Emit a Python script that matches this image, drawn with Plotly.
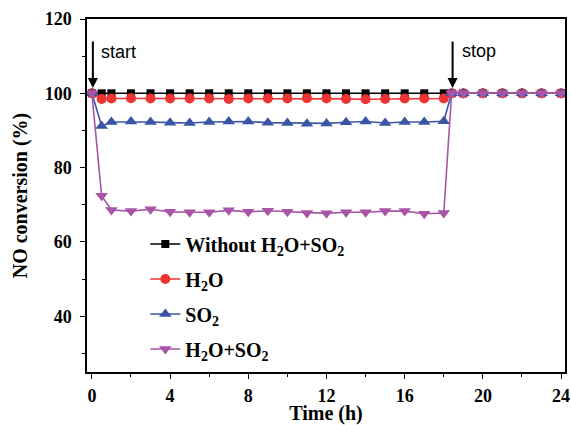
import plotly.graph_objects as go

time_h = [0, 0.5, 1, 2, 3, 4, 5, 6, 7, 8, 9, 10, 11, 12, 13, 14, 15, 16, 17, 18,
          18.4, 19, 20, 21, 22, 23, 24]
after = [100, 100, 100, 100, 100, 100, 100]
without = [100] * 20 + after
h2o = [100, 98.5, 98.6, 98.7, 98.6, 98.6, 98.6, 98.6, 98.5, 98.6, 98.6, 98.6, 98.7,
       98.6, 98.5, 98.4, 98.5, 98.6, 98.6, 98.6] + after
so2 = [100, 91.2, 92.3, 92.4, 92.3, 92.1, 92.0, 92.3, 92.4, 92.4, 92.1, 92.0, 91.8,
       91.9, 92.2, 92.4, 92.0, 92.3, 92.3, 92.5] + after
h2o_so2 = [100, 72.4, 68.6, 68.3, 68.8, 68.1, 68.0, 68.0, 68.5, 68.1, 68.4, 68.1, 67.8,
           67.7, 68.0, 68.0, 68.3, 68.3, 67.6, 67.8] + after

series = [
    ("Without H<sub>2</sub>O+SO<sub>2</sub>", without, "#000000", "square", 8),
    ("H<sub>2</sub>O", h2o, "#ee3333", "circle", 10),
    ("SO<sub>2</sub>", so2, "#3a55a5", "triangle-up", 11),
    ("H<sub>2</sub>O+SO<sub>2</sub>", h2o_so2, "#a855a8", "triangle-down", 11),
]

serif = "Times New Roman, Liberation Serif, serif"
sans = "Arial, Liberation Sans, sans-serif"

fig = go.Figure()
for i, (name, ys, color, sym, sz) in enumerate(series):
    fig.add_trace(go.Scatter(
        x=time_h, y=ys, name=name, mode="lines+markers",
        line=dict(color=color, width=1.6),
        marker=dict(symbol=sym, size=sz, color=color),
        legendgroup=f"g{i}",
    ))

for xa in (0.05, 18.45):
    fig.add_annotation(x=xa, y=101.4, ax=0, ay=-48, text="", showarrow=True,
                       arrowhead=2, arrowsize=1, arrowwidth=2, arrowcolor="black")
fig.add_annotation(x=0.35, y=111, text="start", showarrow=False, xanchor="left",
                   font=dict(family=sans, size=18, color="black"))
fig.add_annotation(x=18.85, y=111.5, text="stop", showarrow=False, xanchor="left",
                   font=dict(family=sans, size=18, color="black"))

axis_font = dict(family=serif, size=18, color="black", weight="bold")
title_font = dict(family=serif, size=20, color="black", weight="bold")
fig.update_layout(
    width=571, height=425,
    margin=dict(l=87, r=6, t=19, b=53),
    paper_bgcolor="white", plot_bgcolor="white",
    showlegend=True,
    legend=dict(x=0.122, y=0.418, xanchor="left", yanchor="top",
                bgcolor="rgba(0,0,0,0)", tracegroupgap=6,
                font=dict(family=serif, size=20, color="black", weight="bold")),
    xaxis=dict(range=[-0.25, 24.2], tickvals=[0, 4, 8, 12, 16, 20, 24],
               ticks="outside", ticklen=5, tickwidth=1.2, tickcolor="black",
               minor=dict(tickvals=[2, 6, 10, 14, 18, 22], ticks="outside", ticklen=3,
                          tickcolor="black", tickwidth=1.2),
               showline=True, linecolor="black", linewidth=1.5, mirror=True,
               showgrid=False, zeroline=False, automargin=False,
               tickfont=axis_font, ticklabelstandoff=2,
               title=dict(text="Time (h)", font=title_font, standoff=3)),
    yaxis=dict(range=[25, 120], tickvals=[40, 60, 80, 100, 120],
               ticks="outside", ticklen=5, tickwidth=1.2, tickcolor="black",
               minor=dict(tickvals=[30, 50, 70, 90, 110], ticks="outside", ticklen=3,
                          tickcolor="black", tickwidth=1.2),
               showline=True, linecolor="black", linewidth=1.5, mirror=True,
               showgrid=False, zeroline=False, automargin=False,
               tickfont=axis_font, ticklabelstandoff=5,
               title=dict(text="NO conversion (%)", font=title_font, standoff=12)),
)

fig.write_html("out.html", post_script="document.body.style.margin='0';",
               config={"displayModeBar": False})
